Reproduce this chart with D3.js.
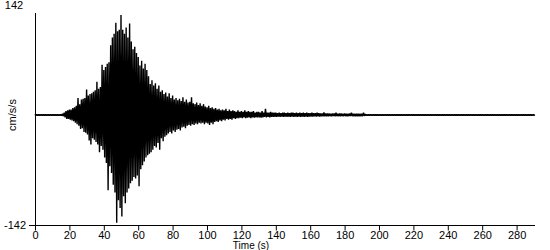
<!DOCTYPE html>
<html>
<head>
<meta charset="utf-8">
<script src="https://cdn.jsdelivr.net/npm/d3@7"></script>
<style>
  html, body { margin: 0; padding: 0; background: #fff; }
  svg { display: block; }
  text { font-family: 'Liberation Sans Narrow', 'Arial Narrow', Arial, sans-serif; font-size: 11px; fill: #000; }
</style>
</head>
<body>
<div id="chart"></div>
<script>
// ---- data ----
// time axis ticks (s)
const xTicks = [0, 20, 40, 60, 80, 100, 120, 140, 160, 180, 200, 220, 240, 260, 280];
const yLimit = 142;
const yLabels = ["142", "-142"];
const xLabel = "Time (s)";
const yLabel = "cm/s/s";
// sample spacing of the envelope arrays (s), starting at t = 0
const sampleStep = 1;
// positive peaks of acceleration (cm/s/s), one per second, t = 0 .. 290
const peakPos = [
  1,1,1,1,1,1,1,1,1,1,
  1,1,1,1,1,1,1.5,3,5,6,
  7,7,9,10,12,22,14,20,21,22,
  33,25,27,28,30,32,43,34,36,65,
  58,62,66,68,90,100,105,119,108,110,
  129,110,105,113,100,118,95,85,88,80,
  75,64,70,60,66,58,50,40,45,38,
  41,34,38,30,32,27,29,24,28,22,
  25,20,22,19,21,18,23,17,20,16,
  17,23,15,14,16,13,15,12,14,11,
  10,12,9,10,8,9,7,8,6,7,
  6,8,5,7,5,6,5,4,6,4,
  5,4,6,4,5,4,4,5,3,4,
  4,3,5,3,8,3,3,4,3,3,
  3,2.5,3,2.5,3,3,2.5,3,2.5,3,
  3,2.5,3,2.5,3,2.5,3,2.5,3,2.5,
  2.5,3,2.5,2.5,3,2.5,2,2,3.5,2,
  2,2,1.5,2,2,3,1.5,2,2,1.5,
  2,1.5,1.5,2,3,1.5,1.5,1.5,1.5,1.5,
  1.5,3,1.2,1,1,1,1,1,1,1,
  1,1,1,1,1,1,1,1,1,1,
  1,1,1,1,1,1,1,1,1,1,
  1,1,1,1,1,1,1,1,1,1,
  1,1,1,1,1,1,1,1,1,1,
  1,1,1,1,1,1,1,1,1,1,
  1,1,1,1,1,1,1,1,1,1,
  1,1,1,1,1,1,1,1,1,1,
  1,1,1,1,1,1,1,1,1,1,
  1,1,1,1,1,1,1,1,1,1,
  1
];
// negative peaks of acceleration (cm/s/s), one per second, t = 0 .. 290
const peakNeg = [
  -1,-1,-1,-1,-1,-1,-1,-1,-1,-1,
  -1,-1,-1,-1,-1,-1,-1.5,-3,-5,-5,
  -6,-7,-8,-10,-12,-14,-18,-17,-22,-23,
  -25,-33,-38,-30,-32,-35,-38,-48,-40,-45,
  -55,-62,-97,-66,-75,-90,-100,-139,-110,-120,
  -131,-105,-114,-100,-95,-88,-85,-80,-82,-78,
  -92,-70,-65,-60,-55,-52,-50,-48,-45,-40,
  -42,-36,-45,-30,-34,-28,-26,-24,-22,-24,
  -20,-22,-19,-18,-20,-16,-15,-17,-14,-13,
  -14,-12,-13,-11,-12,-10,-11,-10,-12,-10,
  -11,-13,-10,-12,-9,-8,-9,-7,-8,-6,
  -7,-5,-6,-5,-6,-4,-5,-4,-4,-3.5,
  -4,-3,-4,-3.5,-3,-4,-3,-3.5,-3,-3,
  -3,-3.5,-3,-2.5,-3,-2.5,-3,-2.5,-2.5,-2.5,
  -2.5,-2,-2.5,-2,-2.5,-2,-2.5,-2,-2.5,-2,
  -2.5,-2,-2.5,-2,-2.5,-2,-2.5,-2,-2.5,-2,
  -2,-2,-1.8,-2,-1.8,-2,-1.8,-1.8,-1.8,-1.8,
  -1.8,-1.5,-1.8,-1.5,-1.8,-1.5,-1.5,-1.8,-1.5,-1.5,
  -1.5,-1.5,-1.5,-1.5,-1.5,-1.5,-1.5,-1.5,-1.5,-1.5,
  -1.5,-1.2,-1,-1,-1,-1,-1,-1,-1,-1,
  -1,-1,-1,-1,-1,-1,-1,-1,-1,-1,
  -1,-1,-1,-1,-1,-1,-1,-1,-1,-1,
  -1,-1,-1,-1,-1,-1,-1,-1,-1,-1,
  -1,-1,-1,-1,-1,-1,-1,-1,-1,-1,
  -1,-1,-1,-1,-1,-1,-1,-1,-1,-1,
  -1,-1,-1,-1,-1,-1,-1,-1,-1,-1,
  -1,-1,-1,-1,-1,-1,-1,-1,-1,-1,
  -1,-1,-1,-1,-1,-1,-1,-1,-1,-1,
  -1,-1,-1,-1,-1,-1,-1,-1,-1,-1,
  -1
];
const xMax = 290.7;

// ---- drawing ----
const W = 550, H = 250;
const svg = d3.select("#chart").append("svg").attr("width", W).attr("height", H);

const x = d3.scaleLinear().domain([0, xMax]).range([35, 535]);
const y = d3.scaleLinear().domain([-yLimit, yLimit]).range([225, 5]);

// trace: alternate positive and negative peaks
const pts = [];
peakPos.forEach((v, i) => {
  const t = i * sampleStep;
  pts.push([t, v]);
  pts.push([t + sampleStep / 2, peakNeg[i]]);
});
const line = d3.line().x(d => x(d[0])).y(d => y(d[1]));
svg.append("path")
  .attr("d", line(pts))
  .attr("fill", "none")
  .attr("stroke", "#000")
  .attr("stroke-width", 1.4)
  .attr("stroke-linejoin", "miter")
  .attr("stroke-miterlimit", 1);

// x axis
const xAxis = d3.axisBottom(x).tickValues(xTicks).tickSize(5).tickSizeOuter(0).tickFormat(d3.format("d"));
const gx = svg.append("g").attr("transform", `translate(0,${y(-yLimit) + 0.5})`).call(xAxis);
gx.select(".domain").attr("d", `M${x(0) - 6},0H${x(xMax)}`).attr("stroke", "#000");
gx.selectAll(".tick line").attr("stroke", "#000");
gx.selectAll(".tick text").attr("y", 13).attr("dy", null)
  .style("font-family", "'Liberation Sans Narrow', Arial, sans-serif").style("font-size", "11px");
gx.attr("font-family", null).attr("font-size", null);

// y axis line
svg.append("line")
  .attr("x1", x(0) + 0.5).attr("x2", x(0) + 0.5)
  .attr("y1", y(-yLimit) + 0.5).attr("y2", 13)
  .attr("stroke", "#000");

// y labels
svg.append("text").attr("x", 14).attr("y", y(yLimit) + 4).attr("text-anchor", "middle").text(yLabels[0]);
svg.append("text").attr("x", 15).attr("y", y(-yLimit) + 4).attr("text-anchor", "middle").text(yLabels[1]);

// axis titles
svg.append("text").attr("x", 251).attr("y", 248.5).attr("text-anchor", "middle")
  .style("font-size", "10px").text(xLabel);
svg.append("text").attr("transform", "translate(16,115) rotate(-90)").attr("text-anchor", "middle").text(yLabel);
</script>
</body>
</html>
